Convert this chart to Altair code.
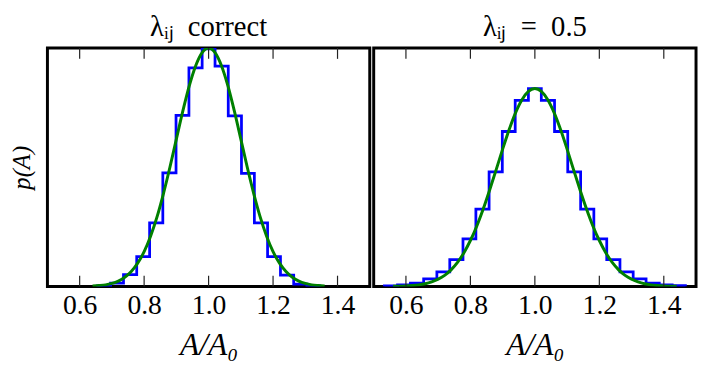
import altair as alt
import pandas as pd

# ---- data ----
tick_values = [0.6, 0.8, 1.0, 1.2, 1.4]

# left panel: lambda_ij correct
left_edges = [0.655, 0.696, 0.736, 0.777, 0.817, 0.858, 0.899, 0.939, 0.980,
              1.020, 1.061, 1.102, 1.142, 1.183, 1.223, 1.264, 1.305, 1.345]
left_counts = [0.003, 0.014, 0.050, 0.125, 0.267, 0.477, 0.718, 0.917, 0.996,
               0.924, 0.715, 0.474, 0.267, 0.125, 0.048, 0.010, 0.003]

left_curve_x = [0.64, 0.66, 0.68, 0.70, 0.72, 0.74, 0.76, 0.78, 0.80, 0.82,
                0.84, 0.86, 0.88, 0.90, 0.92, 0.94, 0.96, 0.98, 1.00, 1.02,
                1.04, 1.06, 1.08, 1.10, 1.12, 1.14, 1.16, 1.18, 1.20, 1.22,
                1.24, 1.26, 1.28, 1.30, 1.32, 1.34, 1.36]
left_curve_y = [0.002, 0.004, 0.007, 0.013, 0.023, 0.039, 0.063, 0.098, 0.146, 0.211,
                0.292, 0.390, 0.500, 0.618, 0.735, 0.841, 0.926, 0.981, 1.000, 0.981,
                0.926, 0.841, 0.735, 0.618, 0.500, 0.390, 0.292, 0.211, 0.146, 0.098,
                0.063, 0.039, 0.023, 0.013, 0.007, 0.004, 0.002]

# right panel: lambda_ij = 0.5
right_edges = [0.533, 0.574, 0.614, 0.655, 0.696, 0.736, 0.777, 0.817, 0.858,
               0.899, 0.939, 0.980, 1.020, 1.061, 1.102, 1.142, 1.183, 1.223,
               1.264, 1.305, 1.345, 1.386, 1.426, 1.467]
right_counts = [0.003, 0.007, 0.014, 0.032, 0.062, 0.113, 0.200, 0.325, 0.481,
                0.650, 0.780, 0.830, 0.780, 0.650, 0.481, 0.325, 0.200, 0.113,
                0.062, 0.032, 0.014, 0.007, 0.004]

right_curve_x = [0.56, 0.58, 0.60, 0.62, 0.64, 0.66, 0.68, 0.70, 0.72, 0.74,
                 0.76, 0.78, 0.80, 0.82, 0.84, 0.86, 0.88, 0.90, 0.92, 0.94,
                 0.96, 0.98, 1.00, 1.02, 1.04, 1.06, 1.08, 1.10, 1.12, 1.14,
                 1.16, 1.18, 1.20, 1.22, 1.24, 1.26, 1.28, 1.30, 1.32, 1.34,
                 1.36, 1.38, 1.40, 1.42, 1.44]
right_curve_y = [0.001, 0.001, 0.002, 0.004, 0.007, 0.012, 0.020, 0.031, 0.047, 0.070,
                 0.101, 0.142, 0.193, 0.254, 0.326, 0.406, 0.490, 0.576, 0.657, 0.728,
                 0.783, 0.818, 0.830, 0.818, 0.783, 0.728, 0.657, 0.576, 0.490, 0.406,
                 0.326, 0.254, 0.193, 0.142, 0.101, 0.070, 0.047, 0.031, 0.020, 0.012,
                 0.007, 0.004, 0.002, 0.001, 0.001]

titles = ["λᵢⱼ\u2002correct", "λᵢⱼ\u2002=\u20020.5"]

W, H = 327, 242
FONT = "Liberation Serif"
XDOM = [0.5, 1.5]
YDOM = [0, 1.0]


def step_table(edges, counts):
    rows = [{"x": edges[0], "y": 0.0}]
    for i, c in enumerate(counts):
        rows.append({"x": edges[i], "y": c})
        rows.append({"x": edges[i + 1], "y": c})
    rows.append({"x": edges[-1], "y": 0.0})
    df = pd.DataFrame(rows)
    df["o"] = range(len(df))
    return df


def panel(edges, counts, cx, cy, title, first):
    xscale = alt.Scale(domain=XDOM, nice=False, zero=False)
    yscale = alt.Scale(domain=YDOM, nice=False)
    xaxis = alt.Axis(values=tick_values, format=".1f", ticks=False, domain=False,
                     grid=False, labelFont=FONT, labelFontSize=28, labelPadding=5,
                     labelColor="black", title="A/A₀", titleFont=FONT,
                     titleFontSize=32, titleFontStyle="italic", titleFontWeight="normal",
                     titleColor="black", titlePadding=11, labelFlush=False)
    if first:
        yaxis = alt.Axis(labels=False, ticks=False, domain=False, grid=False,
                         title="p(A)", titleFont=FONT, titleFontSize=25,
                         titleFontStyle="italic", titleFontWeight="normal",
                         titleColor="black", titlePadding=13)
    else:
        yaxis = None

    hist = alt.Chart(step_table(edges, counts)).mark_line(
        color="#0000ff", strokeWidth=2.8, clip=True, strokeJoin="miter"
    ).encode(
        x=alt.X("x:Q", scale=xscale, axis=xaxis),
        y=alt.Y("y:Q", scale=yscale, axis=yaxis),
        order="o:Q",
    )
    curve = alt.Chart(pd.DataFrame({"x": cx, "y": cy})).mark_line(
        color="#008000", strokeWidth=3, clip=True, interpolate="monotone"
    ).encode(x=alt.X("x:Q", scale=xscale), y=alt.Y("y:Q", scale=yscale))

    tdf = pd.DataFrame({"t": tick_values})
    top_ticks = alt.Chart(tdf).mark_rule(color="#222222", strokeWidth=1.2).encode(
        x=alt.X("t:Q", scale=xscale), y=alt.value(0), y2=alt.value(11))
    bot_ticks = alt.Chart(tdf).mark_rule(color="#222222", strokeWidth=1.2).encode(
        x=alt.X("t:Q", scale=xscale), y=alt.value(H - 11), y2=alt.value(H))

    return alt.layer(hist, curve, top_ticks, bot_ticks).properties(
        width=W, height=H,
        title=alt.TitleParams(title, font=FONT, fontSize=29, fontWeight="normal",
                              color="black", offset=6),
    )


left = panel(left_edges, left_counts, left_curve_x, left_curve_y, titles[0], True)
right = panel(right_edges, right_counts, right_curve_x, right_curve_y, titles[1], False)

chart = alt.hconcat(left, right, spacing=0).properties(
    padding=0, background="white"
).configure_view(stroke="black", strokeWidth=3)

chart.save("out.html", embed_options={"renderer": "svg", "actions": False})
